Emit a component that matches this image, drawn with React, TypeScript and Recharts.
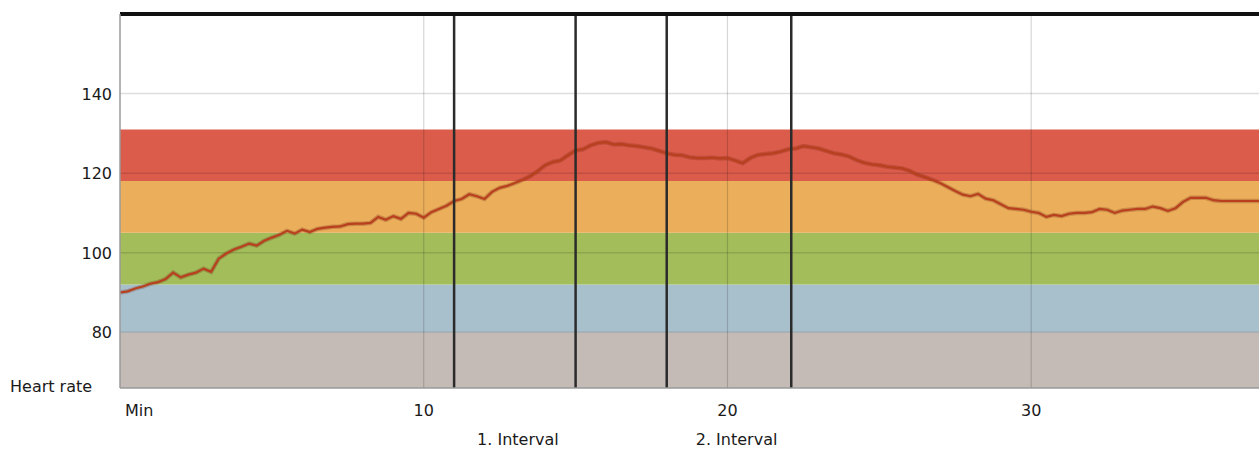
import React from 'react';
import { ComposedChart, Line, XAxis, YAxis, ReferenceArea, ReferenceLine } from 'recharts';

const minutes = [
  0, 0.25, 0.5, 0.75, 1, 1.25, 1.5, 1.75, 2, 2.25, 2.5, 2.75, 3, 3.25, 3.5, 3.75,
  4, 4.25, 4.5, 4.75, 5, 5.25, 5.5, 5.75, 6, 6.25, 6.5, 6.75, 7, 7.25, 7.5, 7.75,
  8, 8.25, 8.5, 8.75, 9, 9.25, 9.5, 9.75, 10, 10.25, 10.5, 10.75, 11, 11.25, 11.5, 11.75,
  12, 12.25, 12.5, 12.75, 13, 13.25, 13.5, 13.75, 14, 14.25, 14.5, 14.75, 15, 15.25, 15.5, 15.75,
  16, 16.25, 16.5, 16.75, 17, 17.25, 17.5, 17.75, 18, 18.25, 18.5, 18.75, 19, 19.25, 19.5, 19.75,
  20, 20.25, 20.5, 20.75, 21, 21.25, 21.5, 21.75, 22, 22.25, 22.5, 22.75, 23, 23.25, 23.5, 23.75,
  24, 24.25, 24.5, 24.75, 25, 25.25, 25.5, 25.75, 26, 26.25, 26.5, 26.75, 27, 27.25, 27.5, 27.75,
  28, 28.25, 28.5, 28.75, 29, 29.25, 29.5, 29.75, 30, 30.25, 30.5, 30.75, 31, 31.25, 31.5, 31.75,
  32, 32.25, 32.5, 32.75, 33, 33.25, 33.5, 33.75, 34, 34.25, 34.5, 34.75, 35, 35.25, 35.5, 35.75,
  36, 36.25, 36.5, 36.75, 37, 37.25, 37.5,
];

const heartRate = [
  90.0, 90.3, 91.0, 91.5, 92.2, 92.6, 93.4, 95.0, 93.8, 94.5, 95.0, 96.0, 95.2, 98.5, 99.8, 100.8,
  101.5, 102.3, 101.8, 103.0, 103.8, 104.5, 105.5, 104.8, 105.8, 105.2, 106.0, 106.3, 106.5, 106.6, 107.2, 107.3,
  107.3, 107.5, 109.0, 108.3, 109.2, 108.5, 110.0, 109.8, 108.8, 110.2, 111.0, 111.8, 113.0, 113.5, 114.7, 114.2,
  113.5, 115.3, 116.3, 116.8, 117.5, 118.3, 119.2, 120.5, 122.0, 122.8, 123.2, 124.5, 125.7, 126.0, 127.0, 127.6,
  127.8, 127.2, 127.3, 127.0, 126.8, 126.5, 126.2, 125.6, 125.0, 124.6, 124.5, 124.0, 123.8, 123.8, 123.9, 123.7,
  123.8, 123.2, 122.5, 123.8, 124.6, 124.8, 125.0, 125.4, 126.0, 126.2, 126.8, 126.5, 126.2, 125.6, 125.0, 124.7,
  124.2, 123.3, 122.6, 122.2, 122.0, 121.6, 121.4, 121.2, 120.6, 119.6, 119.0, 118.3, 117.5, 116.5, 115.5, 114.6,
  114.2, 114.8, 113.6, 113.2, 112.2, 111.2, 111.0, 110.8, 110.3, 110.0, 109.0, 109.5, 109.2, 109.8, 110.0, 110.0,
  110.2, 111.0, 110.8, 110.0, 110.6, 110.8, 111.0, 111.0, 111.6, 111.2, 110.5, 111.2, 112.8, 113.8, 113.8, 113.8,
  113.2, 113.0, 113.0, 113.0, 113.0, 113.0, 113.0,
];

const zoneLower = [66, 80, 92, 105, 118];
const zoneUpper = [80, 92, 105, 118, 131];
const zoneColors = ['#c4bab6', '#a8bfcc', '#a3bd5b', '#ebae5b', '#dc5c4b'];

const yTicks = [80, 100, 120, 140];
const xTicks = [0, 10, 20, 30];
const xTickLabels = ['Min', '10', '20', '30'];

const intervalStarts = [11, 18];
const intervalEnds = [15, 22.1];
const intervalLabels = ['1. Interval', '2. Interval'];
const intervalLabelPos = [13.1, 20.3];

const Y_DOMAIN: [number, number] = [66, 160];
const X_DOMAIN: [number, number] = [0, 37.5];

const data = minutes.map((m, i) => ({ min: m, hr: heartRate[i] }));

const FONT = "'DejaVu Sans', Verdana, sans-serif";

const XTick = (props: any) => {
  const { x, y, payload } = props;
  const v = payload.value;
  const li = intervalLabelPos.indexOf(v);
  if (li >= 0) {
    return (
      <text x={x} y={y + 57} textAnchor="middle" fontSize={16} fill="#1a1a1a" fontFamily={FONT}>
        {intervalLabels[li]}
      </text>
    );
  }
  const ti = xTicks.indexOf(v);
  const label = ti >= 0 ? xTickLabels[ti] : String(v);
  const isStart = v === X_DOMAIN[0];
  return (
    <text
      x={isStart ? x + 5 : x}
      y={y + 28}
      textAnchor={isStart ? 'start' : 'middle'}
      fontSize={16}
      fill="#1a1a1a"
      fontFamily={FONT}
    >
      {label}
    </text>
  );
};

const YTick = (props: any) => {
  const { x, y, payload } = props;
  return (
    <text x={x - 8} y={y + 6} textAnchor="end" fontSize={16} fill="#1a1a1a" fontFamily={FONT}>
      {payload.value}
    </text>
  );
};

const HeartLabel = (props: any) => {
  const vb = props.viewBox || { x: 0, y: 14, width: 120, height: 374 };
  return (
    <text x={vb.x + 10} y={vb.y + vb.height + 4} fontSize={16} fill="#1a1a1a" fontFamily={FONT}>
      Heart rate
    </text>
  );
};

export default function App() {
  return (
    <div
      style={{
        position: 'absolute',
        left: 0,
        top: 0,
        width: 1259,
        height: 450,
        background: '#ffffff',
        fontFamily: FONT,
      }}
    >
      <ComposedChart width={1259} height={450} data={data} margin={{ top: 14, right: 0, left: 0, bottom: 2 }}>
        {zoneLower.map((lo, i) => (
          <ReferenceArea
            key={'z' + i}
            y1={lo}
            y2={zoneUpper[i]}
            x1={X_DOMAIN[0]}
            x2={X_DOMAIN[1]}
            fill={zoneColors[i]}
            fillOpacity={1}
            stroke="none"
            ifOverflow="visible"
          />
        ))}
        {yTicks.map((t) => (
          <ReferenceLine key={'gy' + t} y={t} stroke="rgba(0,0,0,0.13)" strokeWidth={1.5} />
        ))}
        {xTicks.slice(1).map((t) => (
          <ReferenceLine key={'gx' + t} x={t} stroke="rgba(0,0,0,0.16)" strokeWidth={1.2} />
        ))}
        <XAxis
          dataKey="min"
          type="number"
          domain={X_DOMAIN}
          ticks={[...xTicks, ...intervalLabelPos]}
          interval={0}
          tickLine={false}
          tickSize={0}
          tickMargin={0}
          height={60}
          axisLine={{ stroke: '#9a9a9a', strokeWidth: 1.5 }}
          tick={<XTick />}
          allowDataOverflow
        />
        <YAxis
          type="number"
          domain={Y_DOMAIN}
          ticks={yTicks}
          width={120}
          interval={0}
          tickLine={false}
          tickSize={0}
          tickMargin={0}
          axisLine={{ stroke: '#9a9a9a', strokeWidth: 1.5 }}
          tick={<YTick />}
          label={<HeartLabel />}
          allowDataOverflow
        />
        <Line
          dataKey="hr"
          type="linear"
          stroke="rgba(110,30,10,0.25)"
          strokeWidth={4.5}
          dot={false}
          activeDot={false}
          isAnimationActive={false}
        />
        <Line
          dataKey="hr"
          type="linear"
          stroke="#b8401e"
          strokeWidth={2.2}
          dot={false}
          activeDot={false}
          isAnimationActive={false}
        />
        {intervalStarts.map((s, i) => (
          <ReferenceLine key={'is' + i} x={s} stroke="#2b2b2b" strokeWidth={2.5} />
        ))}
        {intervalEnds.map((e, i) => (
          <ReferenceLine key={'ie' + i} x={e} stroke="#2b2b2b" strokeWidth={2.5} />
        ))}
        <ReferenceLine y={Y_DOMAIN[1]} stroke="#111111" strokeWidth={4} />
      </ComposedChart>
    </div>
  );
}
